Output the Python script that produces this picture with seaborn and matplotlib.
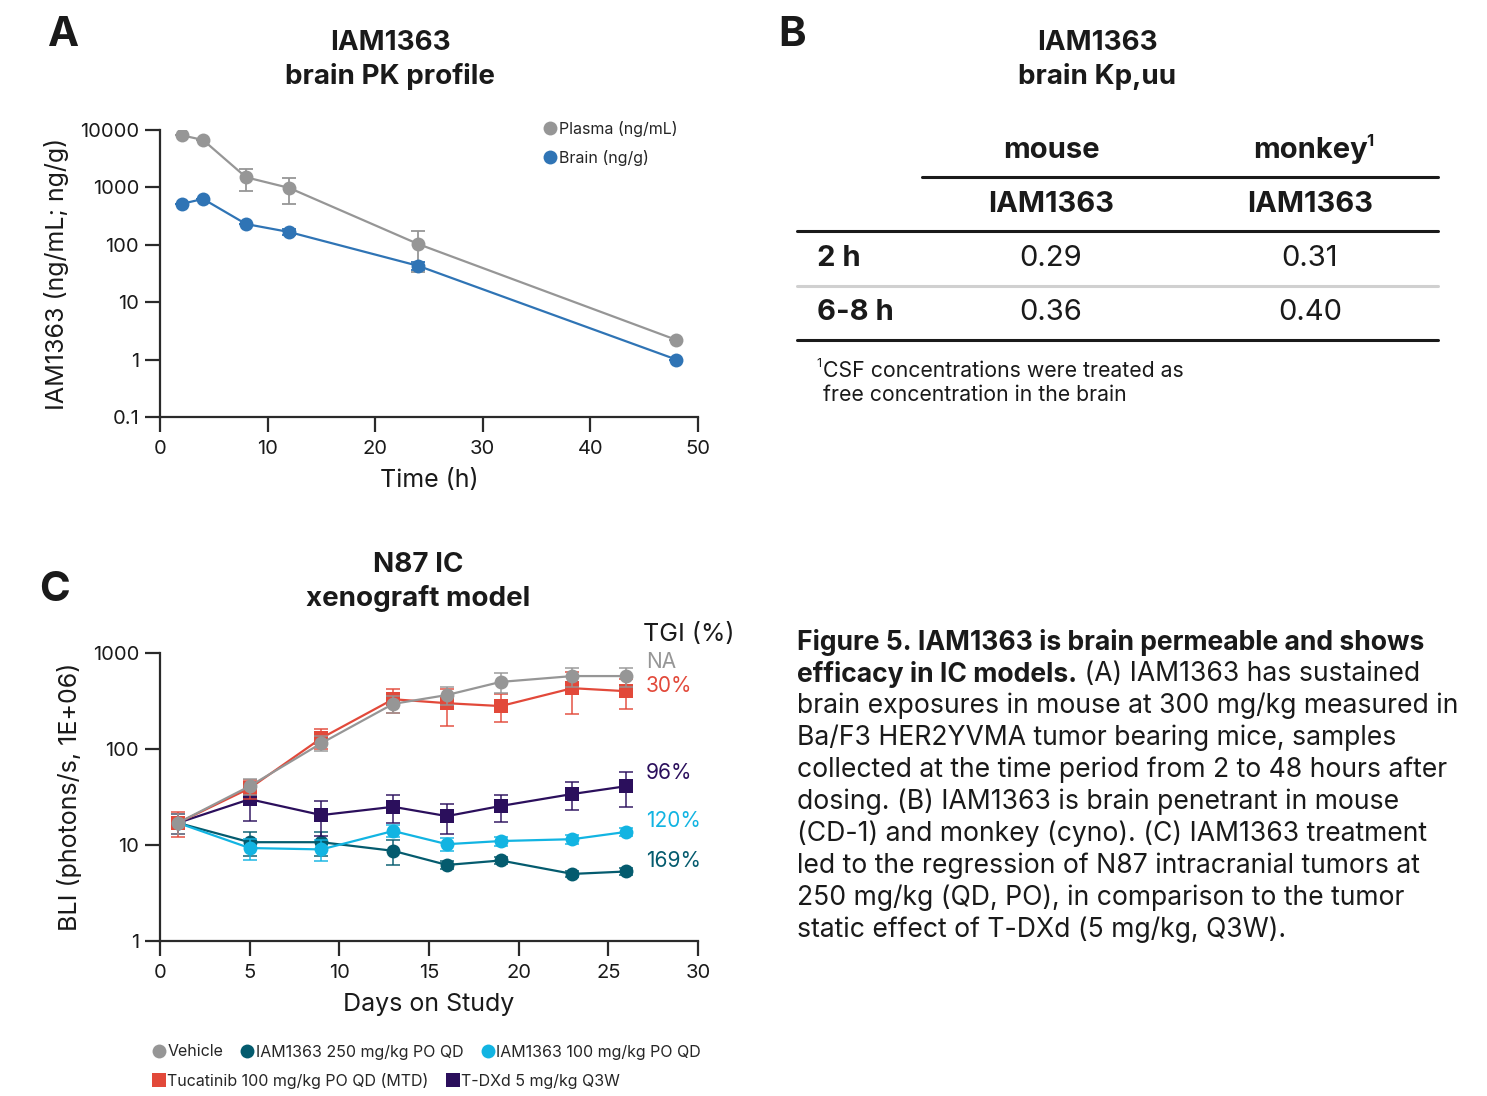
import numpy as np
import pandas as pd
import seaborn as sns
import matplotlib.pyplot as plt
from matplotlib.lines import Line2D

# ---- data panel A (PK profile)
pk_time = [2, 4, 8, 12, 24, 48]
plasma = [8100, 6700, 1500, 980, 103, 2.2]
plasma_err = [0, 0, 620, 470, 70, 0]
brain = [515, 630, 230, 167, 43, 1.0]
brain_err = [0, 0, 0, 20, 7, 0]

# ---- data panel B (Kp,uu table)
kp_rows = ["2 h", "6-8 h"]
kp_mouse = ["0.29", "0.36"]
kp_monkey = ["0.31", "0.40"]

# ---- data panel C (N87 IC xenograft)
days = [1, 5, 9, 13, 16, 19, 23, 26]
vehicle = [17, 41, 115, 295, 365, 500, 575, 575]
vehicle_err = [4, 8, 20, 60, 75, 120, 130, 130]
iam250 = [17, 10.7, 10.7, 8.7, 6.2, 6.9, 5.0, 5.3]
iam250_err = [4, 3, 3, 2.5, 0.6, 0.6, 0.4, 0.4]
iam100 = [17, 9.3, 9.0, 14, 10.2, 11, 11.5, 13.7]
iam100_err = [4, 2.3, 2.2, 2, 1.5, 1.2, 1.3, 1.3]
tucatinib = [17, 39, 130, 330, 300, 280, 430, 400]
tucatinib_err = [5, 9, 30, 90, 125, 90, 200, 140]
tdxd = [17, 30, 20.5, 25, 20, 25.5, 34, 41]
tdxd_err = [4, 12, 8, 8, 7, 8, 11, 16]
tgi_labels = ["NA", "30%", "96%", "120%", "169%"]

sns.set_style("ticks")
plt.rcParams['font.family'] = ['Inter', 'DejaVu Sans']
plt.rcParams['axes.linewidth'] = 1.6
plt.rcParams['axes.edgecolor'] = '#2a2a2a'
plt.rcParams['xtick.major.size'] = 10.5
plt.rcParams['ytick.major.size'] = 10.5
plt.rcParams['xtick.major.width'] = 1.6
plt.rcParams['ytick.major.width'] = 1.6
plt.rcParams['xtick.major.pad'] = 6
plt.rcParams['ytick.major.pad'] = 4.5
plt.rcParams['xtick.color'] = '#2a2a2a'
plt.rcParams['ytick.color'] = '#2a2a2a'

GRAY = '#969696'
BLUE = '#2f74b5'
TEAL = '#045b6e'
LBLUE = '#12b4e2'
RED = '#e2493a'
PURPLE = '#2b0f5c'
TXT = '#1a1a1a'

TITLE_FS = 20
TICK_FS = 14.5
LABEL_FS = 18

fig = plt.figure(figsize=(14.87, 10.96), dpi=100)

W, H = 1487.0, 1096.0
def fx(px):
    return px / W
def fy(py):
    return 1 - py / H

# ================= Panel A
axA = fig.add_axes([0.1076, 0.6195, 0.3618, 0.2619])
dfA = pd.DataFrame({
    "time": pk_time * 2,
    "conc": plasma + brain,
    "err": plasma_err + brain_err,
    "matrix": ["Plasma (ng/mL)"] * len(pk_time) + ["Brain (ng/g)"] * len(pk_time),
})
palA = {"Plasma (ng/mL)": GRAY, "Brain (ng/g)": BLUE}
for name, g in dfA.groupby("matrix"):
    axA.errorbar(g["time"], g["conc"], yerr=g["err"], fmt='none', ecolor=palA[name],
                 elinewidth=1.3, capsize=5, capthick=1.3, zorder=1)
sns.lineplot(data=dfA, x="time", y="conc", hue="matrix", palette=palA, marker='o',
             markersize=10, markeredgewidth=0, linewidth=1.6, legend=False, ax=axA, zorder=2)
axA.set_yscale('log')
axA.set_ylim(0.1, 10000)
axA.set_xlim(0, 50)
axA.set_xticks([0, 10, 20, 30, 40, 50])
axA.set_yticks([0.1, 1, 10, 100, 1000, 10000])
axA.set_yticklabels(["0.1", "1", "10", "100", "1000", "10000"])
axA.yaxis.set_minor_locator(plt.NullLocator())
axA.tick_params(labelsize=TICK_FS, labelcolor=TXT)
axA.set_xlabel("Time (h)", fontsize=LABEL_FS, color=TXT, labelpad=8)
axA.set_ylabel("IAM1363 (ng/mL; ng/g)", fontsize=LABEL_FS, color=TXT, labelpad=8)
sns.despine(ax=axA)
handlesA = [Line2D([], [], marker='o', ls='none', color=palA[k], markersize=10, markeredgewidth=0)
            for k in ["Plasma (ng/mL)", "Brain (ng/g)"]]
axA.legend(handlesA, ["Plasma (ng/mL)", "Brain (ng/g)"], loc='upper left',
           bbox_to_anchor=((544 - 160) / 538.0, 1.031),
           frameon=False, fontsize=11.5, handlelength=0.7, handletextpad=0.25,
           labelspacing=0.8, borderaxespad=0, borderpad=0)
fig.text(fx(390), fy(60), "IAM1363\nbrain PK profile", ha='center', va='center',
         fontsize=TITLE_FS, fontweight='bold', color=TXT, linespacing=1.3)
fig.text(fx(48), fy(35), "A", fontsize=30, fontweight='bold', color=TXT, va='center')

# ================= Panel B (table)
fig.text(fx(1097), fy(60), "IAM1363\nbrain Kp,uu", ha='center', va='center',
         fontsize=TITLE_FS, fontweight='bold', color=TXT, linespacing=1.3)
fig.text(fx(778), fy(35), "B", fontsize=30, fontweight='bold', color=TXT, va='center')

TAB_FS = 21
col_mouse, col_monkey, col_row = 1051, 1310, 817
fig.text(fx(col_mouse), fy(150), "mouse", ha='center', va='center', fontsize=TAB_FS,
         fontweight='bold', color=TXT)
t_mk = fig.text(fx(col_monkey), fy(150), "monkey", ha='center', va='center',
                fontsize=TAB_FS, fontweight='bold', color=TXT)
renderer = fig.canvas.get_renderer()
bb_mk = t_mk.get_window_extent(renderer=renderer)
fig.text(bb_mk.x1 / fig.bbox.width - 0.0005, fy(142), "1", ha='left', va='center',
         fontsize=12, fontweight='bold', color=TXT)
fig.add_artist(Line2D([fx(922), fx(1438)], [fy(177), fy(177)], color=TXT, lw=2.2))
fig.text(fx(col_mouse), fy(204), "IAM1363", ha='center', va='center', fontsize=TAB_FS,
         fontweight='bold', color=TXT)
fig.text(fx(col_monkey), fy(204), "IAM1363", ha='center', va='center', fontsize=TAB_FS,
         fontweight='bold', color=TXT)
fig.add_artist(Line2D([fx(797), fx(1438)], [fy(231), fy(231)], color=TXT, lw=2.2))
row_y = [258, 313]
for r, m1, m2, yy in zip(kp_rows, kp_mouse, kp_monkey, row_y):
    fig.text(fx(col_row), fy(yy), r, ha='left', va='center', fontsize=TAB_FS,
             fontweight='bold', color=TXT)
    fig.text(fx(col_mouse), fy(yy), m1, ha='center', va='center', fontsize=TAB_FS, color=TXT)
    fig.text(fx(col_monkey), fy(yy), m2, ha='center', va='center', fontsize=TAB_FS, color=TXT)
fig.add_artist(Line2D([fx(797), fx(1438)], [fy(286), fy(286)], color='#d0d0d0', lw=2.2))
fig.add_artist(Line2D([fx(797), fx(1438)], [fy(340), fy(340)], color=TXT, lw=2.2))
fig.text(fx(816), fy(364), "1", ha='left', va='center', fontsize=9, color=TXT)
fig.text(fx(823), fy(383), "CSF concentrations were treated as\nfree concentration in the brain",
         ha='left', va='center', fontsize=15.3, color=TXT, linespacing=1.3)

# ================= Panel C
axC = fig.add_axes([0.1076, 0.1414, 0.3618, 0.2628])
groups = ["Vehicle", "IAM1363 250 mg/kg PO QD", "IAM1363 100 mg/kg PO QD",
          "Tucatinib 100 mg/kg PO QD (MTD)", "T-DXd 5 mg/kg Q3W"]
vals = [vehicle, iam250, iam100, tucatinib, tdxd]
errs = [vehicle_err, iam250_err, iam100_err, tucatinib_err, tdxd_err]
palC = dict(zip(groups, [GRAY, TEAL, LBLUE, RED, PURPLE]))
markC = dict(zip(groups, ['o', 'o', 'o', 's', 's']))
dfC = pd.DataFrame({
    "day": days * len(groups),
    "bli": sum(vals, []),
    "err": sum(errs, []),
    "group": sum([[g] * len(days) for g in groups], []),
})
draw_order = ["IAM1363 250 mg/kg PO QD", "IAM1363 100 mg/kg PO QD", "T-DXd 5 mg/kg Q3W",
              "Tucatinib 100 mg/kg PO QD (MTD)", "Vehicle"]
for i, name in enumerate(draw_order):
    g = dfC[dfC["group"] == name]
    axC.errorbar(g["day"], g["bli"], yerr=g["err"], fmt='none', ecolor=palC[name],
                 elinewidth=1.3, capsize=5, capthick=1.3, alpha=0.8, zorder=1 + 2 * i)
    sns.lineplot(data=g, x="day", y="bli", color=palC[name], marker=markC[name],
                 markersize=10, markeredgewidth=0, linewidth=1.6, ax=axC, zorder=2 + 2 * i)
axC.set_yscale('log')
axC.set_ylim(1, 1000)
axC.set_xlim(0, 30)
axC.set_xticks([0, 5, 10, 15, 20, 25, 30])
axC.set_yticks([1, 10, 100, 1000])
axC.set_yticklabels(["1", "10", "100", "1000"])
axC.yaxis.set_minor_locator(plt.NullLocator())
axC.tick_params(labelsize=TICK_FS, labelcolor=TXT)
axC.set_xlabel("Days on Study", fontsize=LABEL_FS, color=TXT, labelpad=8)
axC.set_ylabel("BLI (photons/s, 1E+06)", fontsize=LABEL_FS, color=TXT, labelpad=8)
sns.despine(ax=axC)

fig.text(fx(643), fy(634), "TGI (%)", ha='left', va='center', fontsize=18, color=TXT)
tgi_colors = [GRAY, RED, PURPLE, LBLUE, TEAL]
tgi_y = [662, 686, 773, 821, 861]
for lab, c, yy in zip(tgi_labels, tgi_colors, tgi_y):
    fig.text(fx(646), fy(yy), lab, ha='left', va='center', fontsize=15, color=c)

fig.text(fx(418), fy(582), "N87 IC\nxenograft model", ha='center', va='center',
         fontsize=TITLE_FS, fontweight='bold', color=TXT, linespacing=1.3)
fig.text(fx(39), fy(590), "C", fontsize=30, fontweight='bold', color=TXT, va='center')

def handle(name):
    return Line2D([], [], marker=markC[name], ls='none', color=palC[name],
                  markersize=10, markeredgewidth=0)

leg_kw = dict(loc='center left', frameon=False, fontsize=11.5, handlelength=0.7,
              handletextpad=0.2, columnspacing=1.15, borderaxespad=0, borderpad=0)
fig.legend([handle(g) for g in groups[:3]], groups[:3], ncol=3,
           bbox_to_anchor=(fx(153), fy(1052)), **leg_kw)
fig.legend([handle(g) for g in groups[3:]], groups[3:], ncol=2,
           bbox_to_anchor=(fx(153), fy(1081)), **leg_kw)

# ================= Caption
cap_bold = ["Figure 5. IAM1363 is brain permeable and shows", "efficacy in IC models."]
cap_lines = [" (A) IAM1363 has sustained",
             "brain exposures in mouse at 300 mg/kg measured in",
             "Ba/F3 HER2YVMA tumor bearing mice, samples",
             "collected at the time period from 2 to 48 hours after",
             "dosing. (B) IAM1363 is brain penetrant in mouse",
             "(CD-1) and monkey (cyno). (C) IAM1363 treatment",
             "led to the regression of N87 intracranial tumors at",
             "250 mg/kg (QD, PO), in comparison to the tumor",
             "static effect of T-DXd (5 mg/kg, Q3W)."]
cap_x = fx(797)
cap_fs = 19.1
y0, dy = 642, 32
fig.text(cap_x, fy(y0), cap_bold[0], ha='left', va='center', fontsize=cap_fs,
         fontweight='bold', color=TXT)
tb = fig.text(cap_x, fy(y0 + dy), cap_bold[1], ha='left', va='center', fontsize=cap_fs,
              fontweight='bold', color=TXT)
bb = tb.get_window_extent(renderer=renderer)
fig.text(bb.x1 / fig.bbox.width, fy(y0 + dy), cap_lines[0], ha='left', va='center',
         fontsize=cap_fs, color=TXT)
for i, line in enumerate(cap_lines[1:]):
    fig.text(cap_x, fy(y0 + dy * (i + 2)), line, ha='left', va='center',
             fontsize=cap_fs, color=TXT)

plt.savefig("out.png", dpi=100)
